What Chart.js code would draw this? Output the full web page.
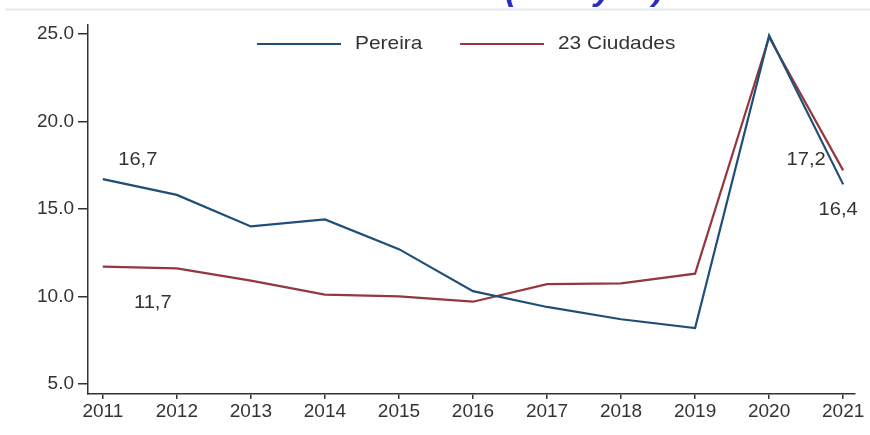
<!DOCTYPE html>
<html>
<head>
<meta charset="utf-8">
<script src="https://cdn.jsdelivr.net/npm/chart.js@4"></script>
<style>
  html, body { margin: 0; padding: 0; background: #fff; }
  #wrap { width: 870px; height: 435px; }
</style>
</head>
<body>
<div id="wrap"><canvas id="chart" width="870" height="435"></canvas></div>
<script>
const years = [2011, 2012, 2013, 2014, 2015, 2016, 2017, 2018, 2019, 2020, 2021];
const pereira = [16.7, 15.8, 14.0, 14.4, 12.7, 10.3, 9.4, 8.7, 8.2, 24.9, 16.4];
const ciudades = [11.7, 11.6, 10.9, 10.1, 10.0, 9.7, 10.7, 10.75, 11.3, 24.8, 17.2];
const yTicks = [5, 10, 15, 20, 25];
const seriesNames = ["Pereira", "23 Ciudades"];

const navy = "#1f4e79";
const maroon = "#94373f";
const textColor = "#333";
const fontFamily = "'Liberation Sans', Arial, sans-serif";

// value labels: [dataset index, point index, dx, dy, text]
const valueLabels = [
    [0, 0, 35, -19, "16,7"],
    [1, 0, 50, 36, "11,7"],
    [1, 10, -37, -10, "17,2"],
    [0, 10, -5, 26, "16,4"]
];

// draw text slightly stretched sideways, like the original export
function wideText(c, txt, x, y, sx) {
    c.save();
    c.translate(x, y);
    c.scale(sx, 1);
    c.fillText(txt, 0, 0);
    c.restore();
}

const extras = {
    id: "extras",
    beforeDraw(chart) {
        const c = chart.ctx;
        c.save();
        // heading cut off at the top of the picture
        c.fillStyle = "#2a2ac4";
        c.font = "italic bold 34px " + fontFamily;
        c.textBaseline = "alphabetic";
        c.fillText("(tasa y %)", 505, 0);
        c.strokeStyle = "#e4ecec";
        c.lineWidth = 2;
        c.beginPath();
        c.moveTo(5, 9.5);
        c.lineTo(870, 9.5);
        c.stroke();
        c.restore();
    },
    afterDraw(chart) {
        const c = chart.ctx;
        c.save();
        c.font = "18px " + fontFamily;
        c.fillStyle = textColor;
        c.textAlign = "center";
        c.textBaseline = "middle";
        valueLabels.forEach(([ds, i, dx, dy, txt]) => {
            const pt = chart.getDatasetMeta(ds).data[i];
            wideText(c, txt, pt.x + dx, pt.y + dy, 1.12);
        });

        // legend inside the plot area
        const ly = chart.chartArea.top + 19;
        const starts = [257, 460];
        c.font = "19px " + fontFamily;
        c.textAlign = "left";
        c.lineWidth = 2;
        chart.data.datasets.forEach((d, k) => {
            const x0 = starts[k];
            c.strokeStyle = d.borderColor;
            c.beginPath();
            c.moveTo(x0, ly);
            c.lineTo(x0 + 84, ly);
            c.stroke();
            c.fillStyle = textColor;
            wideText(c, d.label, x0 + 98, ly, 1.1);
        });
        c.restore();
    }
};

new Chart(document.getElementById("chart"), {
    type: "line",
    data: {
        datasets: [{
            label: seriesNames[0],
            data: years.map((y, i) => ({ x: y, y: pereira[i] })),
            borderColor: navy,
            backgroundColor: navy,
            borderWidth: 2.2,
            pointRadius: 0,
            tension: 0
        }, {
            label: seriesNames[1],
            data: years.map((y, i) => ({ x: y, y: ciudades[i] })),
            borderColor: maroon,
            backgroundColor: maroon,
            borderWidth: 2.2,
            pointRadius: 0,
            tension: 0
        }]
    },
    options: {
        responsive: false,
        animation: false,
        layout: { padding: { top: 25, right: 15, left: 0, bottom: 0 } },
        plugins: {
            legend: { display: false },
            tooltip: { enabled: false }
        },
        scales: {
            x: {
                type: "linear",
                min: 2010.8,
                max: 2021.16,
                afterBuildTicks: (s) => { s.ticks = years.map(v => ({ value: v })); },
                afterFit: (s) => { s.height = 41; },
                grid: { display: true, drawOnChartArea: false, drawTicks: true, tickLength: 5, color: textColor, lineWidth: 1.5 },
                border: { display: true, color: textColor, width: 1.5 },
                ticks: {
                    color: textColor,
                    font: { family: fontFamily, size: 19 },
                    padding: 1,
                    maxRotation: 0,
                    autoSkip: false,
                    callback: (v) => String(v)
                }
            },
            y: {
                min: 4.43,
                max: 25.5,
                afterBuildTicks: (s) => { s.ticks = yTicks.map(v => ({ value: v })); },
                afterFit: (s) => { s.width = 88; },
                grid: { display: true, drawOnChartArea: false, drawTicks: true, tickLength: 10, color: textColor, lineWidth: 1.5 },
                border: { display: true, color: textColor, width: 1.5 },
                ticks: {
                    color: textColor,
                    font: { family: fontFamily, size: 19 },
                    padding: 4,
                    callback: (v) => v.toFixed(1)
                }
            }
        }
    },
    plugins: [extras]
});
</script>
</body>
</html>
